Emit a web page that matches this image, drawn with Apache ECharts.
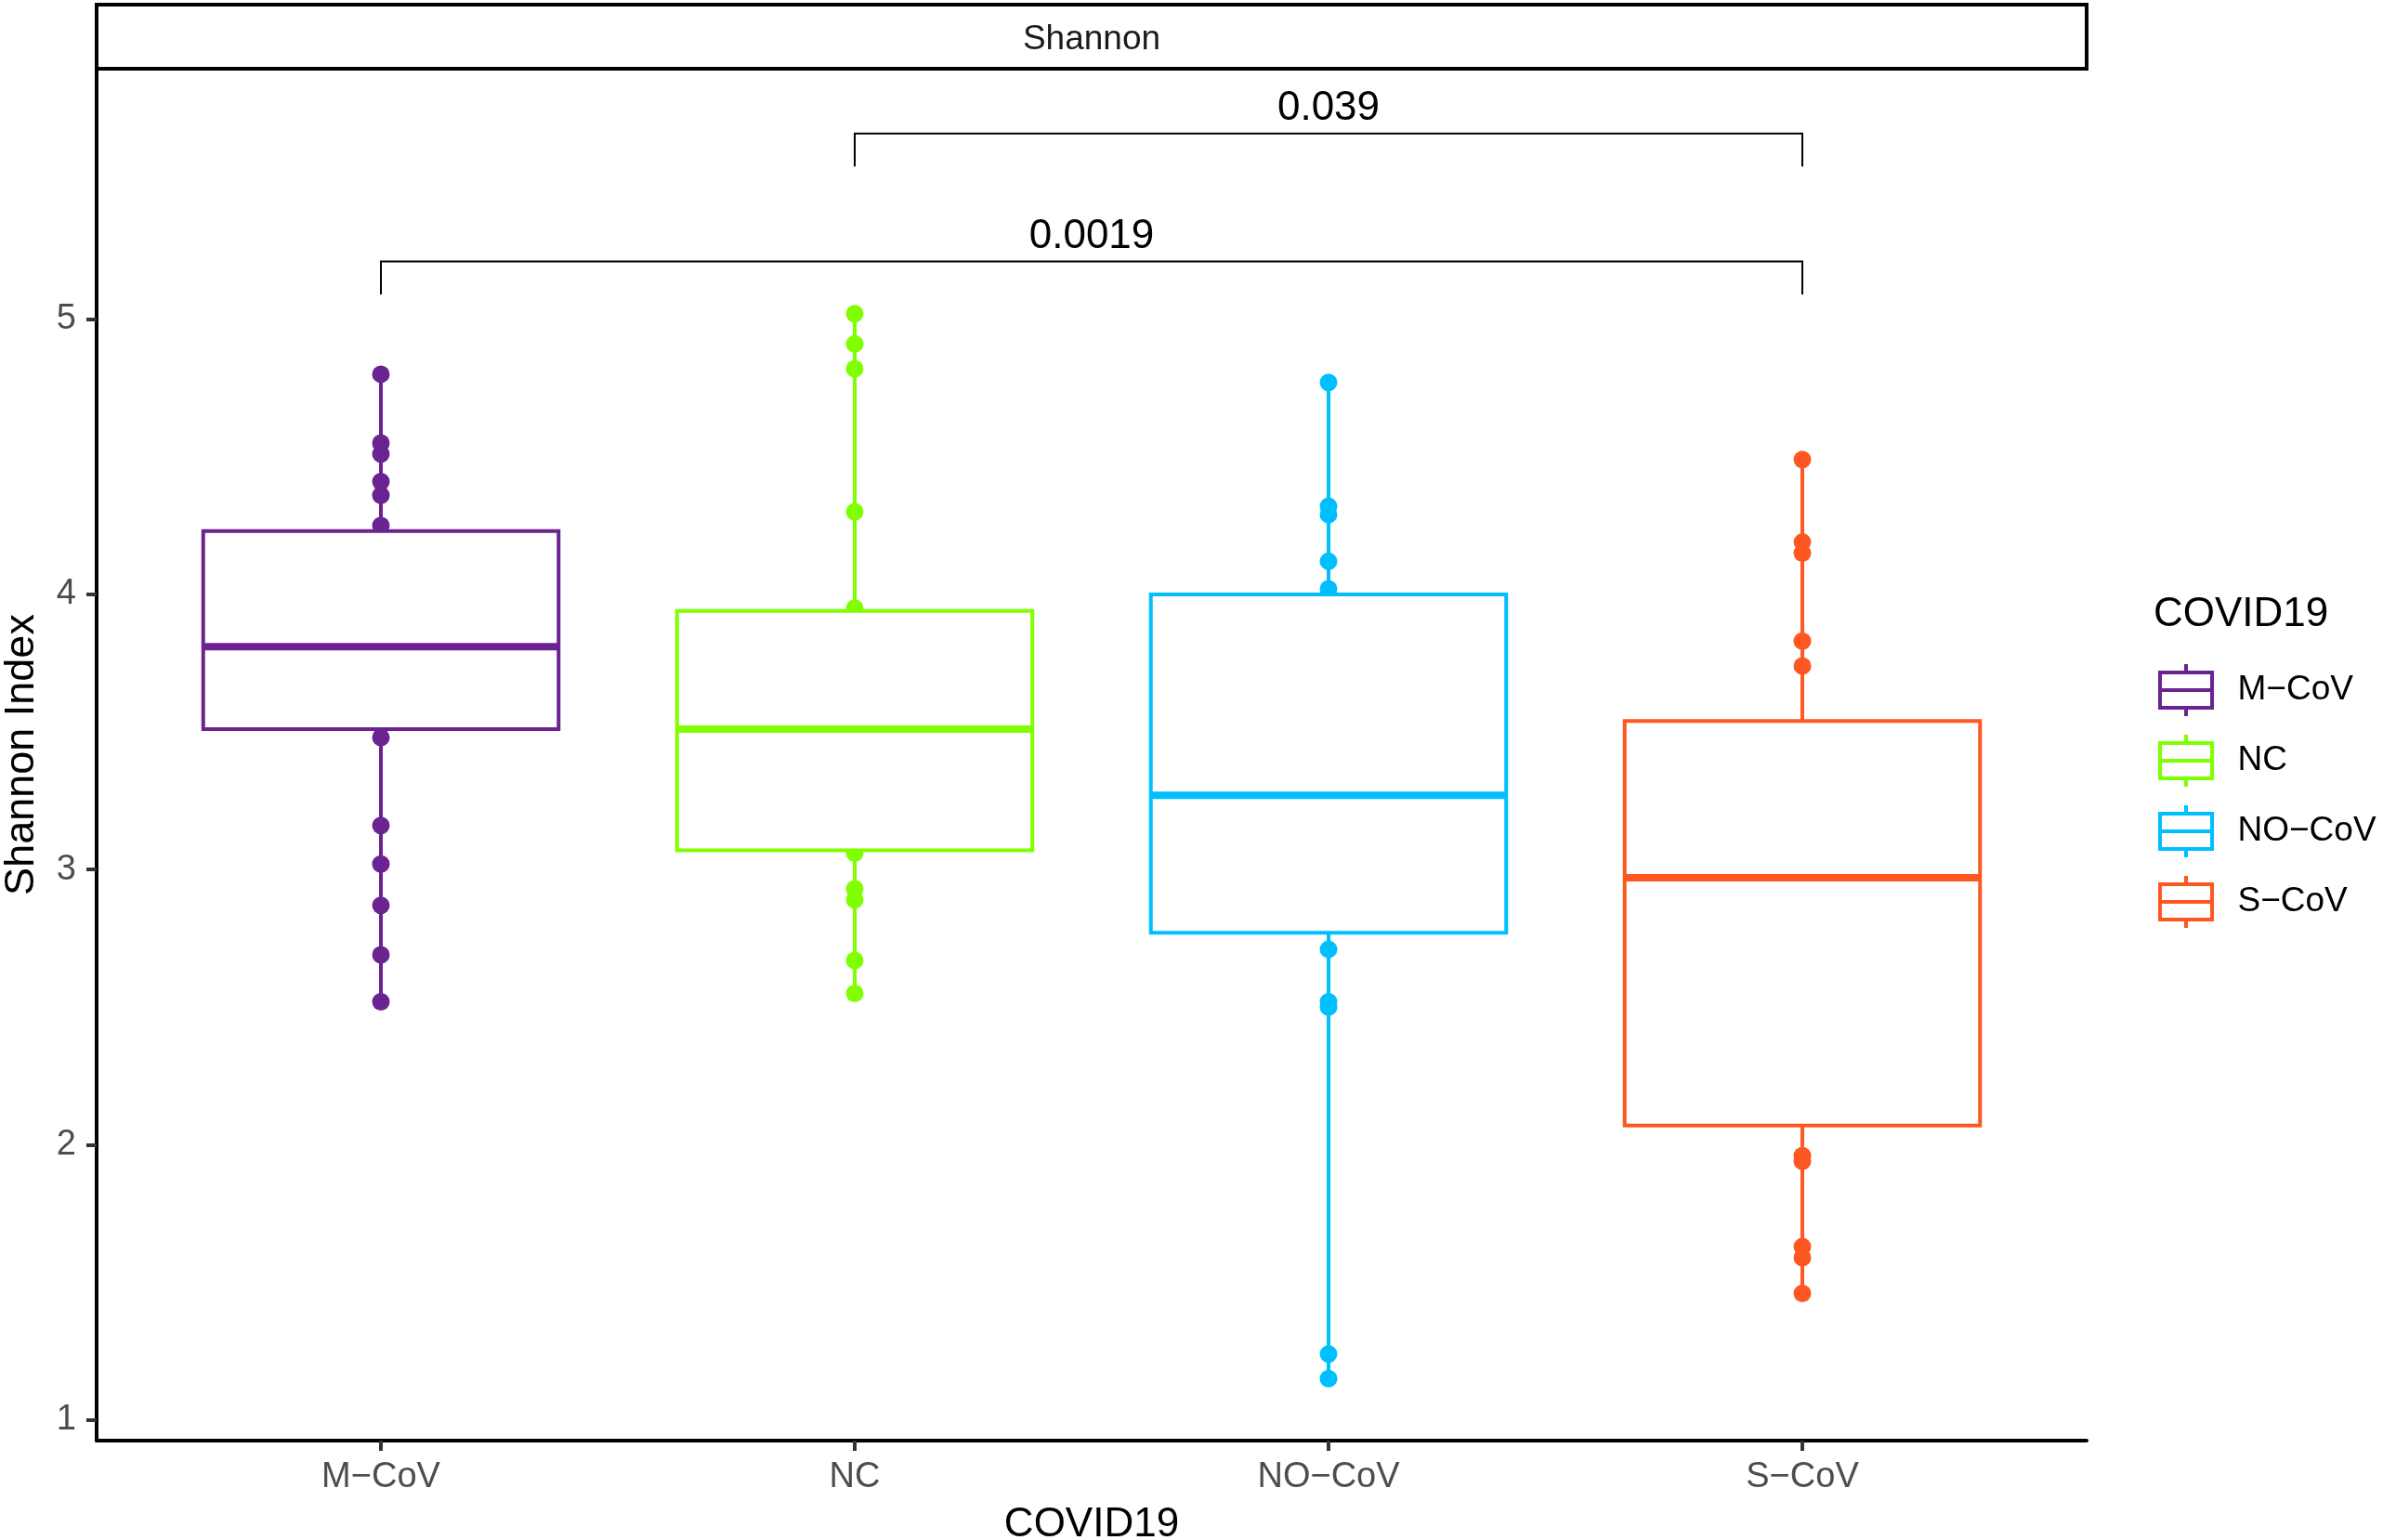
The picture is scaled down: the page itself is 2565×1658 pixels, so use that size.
<!DOCTYPE html>
<html>
<head>
<meta charset="utf-8">
<script src="https://cdn.jsdelivr.net/npm/echarts@6/dist/echarts.min.js"></script>
<style>
  html, body { margin: 0; padding: 0; background: #fff; }
  #chart { width: 2565px; height: 1658px; }
</style>
</head>
<body>
<div id="chart"></div>
<script>
const categories = ['M−CoV', 'NC', 'NO−CoV', 'S−CoV'];
const groupColors = ['#6A2390', '#7FFF00', '#00BFFF', '#FF5722'];

// sample points that can be seen outside the boxes
const mcovPoints = [4.80, 4.55, 4.51, 4.41, 4.36, 4.25, 3.48, 3.16, 3.02, 2.87, 2.69, 2.52];
const ncPoints = [5.02, 4.91, 4.82, 4.30, 3.95, 3.06, 2.93, 2.89, 2.67, 2.55];
const nocovPoints = [4.77, 4.32, 4.29, 4.12, 4.02, 2.71, 2.52, 2.50, 1.24, 1.15];
const scovPoints = [4.49, 4.19, 4.15, 3.83, 3.74, 1.96, 1.94, 1.63, 1.59, 1.46];

// box statistics
const q1Values = [3.51, 3.07, 2.77, 2.07];
const medianValues = [3.81, 3.51, 3.27, 2.97];
const q3Values = [4.23, 3.94, 4.00, 3.54];

const yTicks = [1, 2, 3, 4, 5];

// pairwise comparisons (group index from / to, bracket height, p value)
const compareFrom = [0, 1];
const compareTo = [3, 3];
const compareY = [5.21, 5.675];
const pLabels = ['0.0019', '0.039'];

const FONT = '"Liberation Sans", Arial, Helvetica, sans-serif';
const pointSets = [mcovPoints, ncPoints, nocovPoints, scovPoints];

function renderBox(color) {
  return function (params, api) {
    const x = api.value(0);
    const lo = api.coord([x, api.value(1)]);
    const b1 = api.coord([x, api.value(2)]);
    const md = api.coord([x, api.value(3)]);
    const b3 = api.coord([x, api.value(4)]);
    const hi = api.coord([x, api.value(5)]);
    const w = api.size([0.75, 0])[0];
    return {
      type: 'group',
      children: [
        { type: 'line', shape: { x1: lo[0], y1: lo[1], x2: hi[0], y2: hi[1] }, style: { stroke: color, lineWidth: 4 } },
        { type: 'rect', shape: { x: b1[0] - w / 2, y: b3[1], width: w, height: b1[1] - b3[1] }, style: { fill: '#fff', stroke: color, lineWidth: 4 } },
        { type: 'line', shape: { x1: md[0] - w / 2, y1: md[1], x2: md[0] + w / 2, y2: md[1] }, style: { stroke: color, lineWidth: 8 } }
      ]
    };
  };
}

const series = [];
categories.forEach(function (name, i) {
  const pts = pointSets[i];
  series.push({
    name: name,
    type: 'scatter',
    z: 2,
    silent: true,
    symbolSize: 19,
    itemStyle: { color: groupColors[i], opacity: 1 },
    data: pts.map(function (v) { return [i + 1, v]; })
  });
  series.push({
    name: name,
    type: 'custom',
    z: 3,
    silent: true,
    encode: { x: 0, y: [1, 2, 3, 4, 5] },
    itemStyle: { color: groupColors[i] },
    data: [[i + 1, Math.min.apply(null, pts), q1Values[i], medianValues[i], q3Values[i], Math.max.apply(null, pts)]],
    renderItem: renderBox(groupColors[i])
  });
});

series.push({
  name: 'brackets',
  type: 'custom',
  z: 4,
  silent: true,
  encode: { x: [0, 1], y: 2 },
  data: compareFrom.map(function (f, k) { return [f + 1, compareTo[k] + 1, compareY[k]]; }),
  renderItem: function (params, api) {
    const k = params.dataIndex;
    const y = api.value(2);
    const p1 = api.coord([api.value(0), y]);
    const p2 = api.coord([api.value(1), y]);
    const tip = api.coord([api.value(0), y - 0.12]);
    return {
      type: 'group',
      children: [
        {
          type: 'polyline',
          shape: { points: [[p1[0], tip[1]], p1, p2, [p2[0], tip[1]]] },
          style: { stroke: '#000', lineWidth: 2, fill: 'none' }
        },
        {
          type: 'text',
          style: {
            text: pLabels[k], x: (p1[0] + p2[0]) / 2, y: p1[1] - 27,
            align: 'center', verticalAlign: 'middle',
            font: '44px ' + FONT, fill: '#000'
          }
        }
      ]
    };
  }
});

const keyIcon = 'path://M28,0L28,9M0,9L56,9L56,47L0,47ZM0,28L56,28M28,47L28,56';

const chart = echarts.init(document.getElementById('chart'));
chart.setOption({
  animation: false,
  backgroundColor: '#fff',
  grid: { left: 104, right: 319, top: 74, bottom: 107, containLabel: false, outerBoundsMode: 'none' },
  xAxis: {
    type: 'value',
    min: 0.4,
    max: 4.6,
    splitLine: { show: false },
    axisLine: { onZero: false, lineStyle: { color: '#000', width: 4 } },
    axisTick: { show: true, customValues: [1, 2, 3, 4], length: 11, lineStyle: { color: '#333', width: 4 } },
    axisLabel: {
      customValues: [1, 2, 3, 4],
      margin: 21,
      color: '#4D4D4D',
      fontSize: 38,
      fontFamily: FONT,
      formatter: function (v) { return categories[Math.round(v) - 1]; }
    },
    name: 'COVID19',
    nameLocation: 'middle',
    nameGap: 69,
    nameTextStyle: { color: '#000', fontSize: 44, fontFamily: FONT }
  },
  yAxis: {
    type: 'value',
    min: 0.925,
    max: 5.91,
    splitLine: { show: false },
    axisLine: { show: true, onZero: false, lineStyle: { color: '#000', width: 4 } },
    axisTick: { show: true, customValues: yTicks, length: 11, lineStyle: { color: '#333', width: 4 } },
    axisLabel: { customValues: yTicks, margin: 22, color: '#4D4D4D', fontSize: 38, fontFamily: FONT },
    name: 'Shannon Index',
    nameLocation: 'middle',
    nameGap: 58,
    nameTextStyle: { color: '#000', fontSize: 45, fontFamily: FONT }
  },
  legend: {
    orient: 'vertical',
    left: 2323,
    top: 713,
    padding: 0,
    itemWidth: 57,
    itemHeight: 56,
    itemGap: 16,
    selectedMode: false,
    textStyle: { color: '#000', fontSize: 37, fontFamily: FONT, padding: [0, 0, 0, 22] },
    data: categories.map(function (name, i) {
      return {
        name: name,
        icon: keyIcon,
        itemStyle: { color: 'rgba(0,0,0,0)', borderColor: groupColors[i], borderWidth: 4 }
      };
    })
  },
  graphic: [
    {
      type: 'rect',
      shape: { x: 104, y: 5, width: 2142, height: 69 },
      style: { fill: '#fff', stroke: '#000', lineWidth: 4 }
    },
    {
      type: 'text',
      x: 1175, y: 43,
      style: { text: 'Shannon', font: '37px ' + FONT, fill: '#1A1A1A', align: 'center', verticalAlign: 'middle' }
    },
    {
      type: 'text',
      x: 2318, y: 662,
      style: { text: 'COVID19', font: '44px ' + FONT, fill: '#000', verticalAlign: 'middle' }
    }
  ],
  series: series
});
</script>
</body>
</html>
